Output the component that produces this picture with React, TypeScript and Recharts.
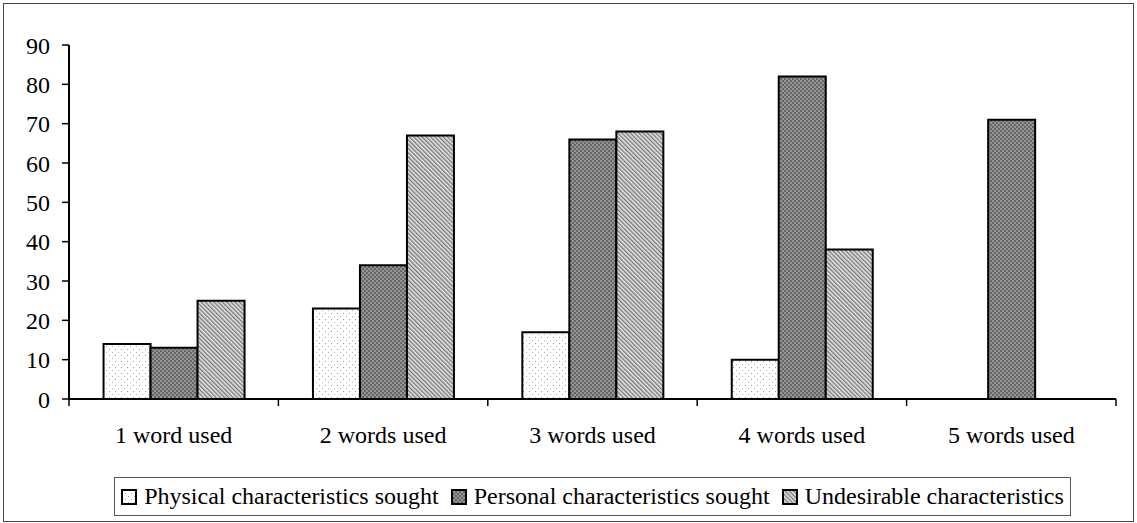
import React from "react";
import { BarChart, Bar, XAxis, YAxis } from "recharts";

const categories = ["1 word used", "2 words used", "3 words used", "4 words used", "5 words used"];
const physical = [14, 23, 17, 10, 0];
const personal = [13, 34, 66, 82, 71];
const undesirable = [25, 67, 68, 38, 0];
const yTicks = [0, 10, 20, 30, 40, 50, 60, 70, 80, 90];

const series = [
  { key: "physical", name: "Physical characteristics sought", fill: "url(#patPhys)" },
  { key: "personal", name: "Personal characteristics sought", fill: "url(#patPers)" },
  { key: "undesirable", name: "Undesirable characteristics", fill: "url(#patUnd)" },
];

const data = categories.map((cat, i) => ({
  cat,
  physical: physical[i],
  personal: personal[i],
  undesirable: undesirable[i],
}));

const FONT = "Times New Roman, Liberation Serif, Tinos, DejaVu Serif, Noto Serif, serif";
const FS = 24;

const XTick = (props: any) => {
  const { x, y, payload, index, width } = props;
  const n = categories.length;
  const bw = (width ?? 1047) / n;
  return (
    <g>
      <line x1={x - bw / 2} x2={x - bw / 2} y1={y} y2={y + 7} stroke="#000" strokeWidth={1.5} />
      {index === n - 1 && (
        <line x1={x + bw / 2} x2={x + bw / 2} y1={y} y2={y + 7} stroke="#000" strokeWidth={1.5} />
      )}
      <text x={x} y={y + 44} textAnchor="middle" style={{ fontFamily: FONT, fontSize: FS }} fill="#000">
        {payload.value}
      </text>
    </g>
  );
};

const Swatch = ({ fill }: { fill: string }) => (
  <svg width={16} height={16} style={{ display: "block" }}>
    <rect x={1} y={1} width={14} height={14} fill={fill} stroke="#000" strokeWidth={2} />
  </svg>
);

const Patterns = () => (
  <defs>
    <pattern id="patPhys" width={6} height={6} patternUnits="userSpaceOnUse">
      <rect width={6} height={6} fill="#fff" />
      <rect x={1} y={1} width={1} height={1} fill="#9a9a9a" />
      <rect x={4} y={4} width={1} height={1} fill="#b5b5b5" />
    </pattern>
    <pattern id="patPers" width={4} height={4} patternUnits="userSpaceOnUse">
      <rect width={4} height={4} fill="#666" />
      <rect x={0} y={0} width={2} height={2} fill="#959595" />
      <rect x={2} y={2} width={2} height={2} fill="#959595" />
    </pattern>
    <pattern id="patUnd" width={3} height={3} patternUnits="userSpaceOnUse" patternTransform="rotate(-45)">
      <rect width={3} height={3} fill="#e6e6e6" />
      <rect x={0} y={0} width={1.4} height={3} fill="#7a7a7a" />
    </pattern>
  </defs>
);

export default function App() {
  return (
    <div style={{ position: "absolute", left: 0, top: 0, width: 1137, height: 523, background: "#fff", fontFamily: FONT }}>
      <div
        style={{
          position: "absolute",
          left: 3,
          top: 3,
          width: 1129,
          height: 517,
          border: "1px solid #444",
        }}
      />
      <div style={{ position: "absolute", left: 0, top: 0 }}>
        <BarChart
          width={1137}
          height={523}
          data={data}
          margin={{ top: 45, right: 21, bottom: 84, left: 0 }}
          barCategoryGap="16.5%"
          barGap={0}
          style={{ fontFamily: FONT }}
        >
          <Patterns />
          <XAxis
            dataKey="cat"
            height={40}
            axisLine={{ stroke: "#000", strokeWidth: 2 }}
            tickLine={false}
            tickSize={0}
            tickMargin={0}
            tick={<XTick />}
            interval={0}
          />
          <XAxis
            xAxisId="top"
            dataKey="cat"
            orientation="top"
            height={0}
            tick={false}
            tickLine={false}
            axisLine={{ stroke: "#000", strokeWidth: 2 }}
          />
          <YAxis
            width={69}
            domain={[0, 90]}
            ticks={yTicks}
            interval={0}
            tickSize={7}
            tickMargin={12}
            axisLine={{ stroke: "#000", strokeWidth: 2 }}
            tickLine={{ stroke: "#000", strokeWidth: 1.5 }}
            tick={{ style: { fontFamily: FONT, fontSize: FS }, fill: "#000" }}
          />
          <YAxis
            yAxisId="right"
            orientation="right"
            width={0}
            domain={[0, 90]}
            tick={false}
            tickLine={false}
            axisLine={{ stroke: "#000", strokeWidth: 2 }}
          />
          {series.map((s) => (
            <Bar
              key={s.key}
              dataKey={s.key}
              name={s.name}
              fill={s.fill}
              stroke="#000"
              strokeWidth={2}
              isAnimationActive={false}
            />
          ))}
        </BarChart>
      </div>
      <div
        style={{
          position: "absolute",
          left: 114,
          top: 477,
          width: 955,
          height: 37,
          border: "1px solid #555",
          display: "flex",
          alignItems: "center",
          justifyContent: "center",
          fontFamily: FONT,
          fontSize: FS,
          color: "#000",
          boxSizing: "content-box",
        }}
      >
        <svg width={0} height={0} style={{ position: "absolute" }}>
          <Patterns />
        </svg>
        {series.map((s, i) => (
          <div
            key={s.key}
            style={{ display: "flex", alignItems: "center", marginLeft: i === 0 ? 0 : 12 }}
          >
            <Swatch fill={s.fill} />
            <span style={{ marginLeft: 7, whiteSpace: "nowrap", lineHeight: "37px" }}>{s.name}</span>
          </div>
        ))}
      </div>
    </div>
  );
}
